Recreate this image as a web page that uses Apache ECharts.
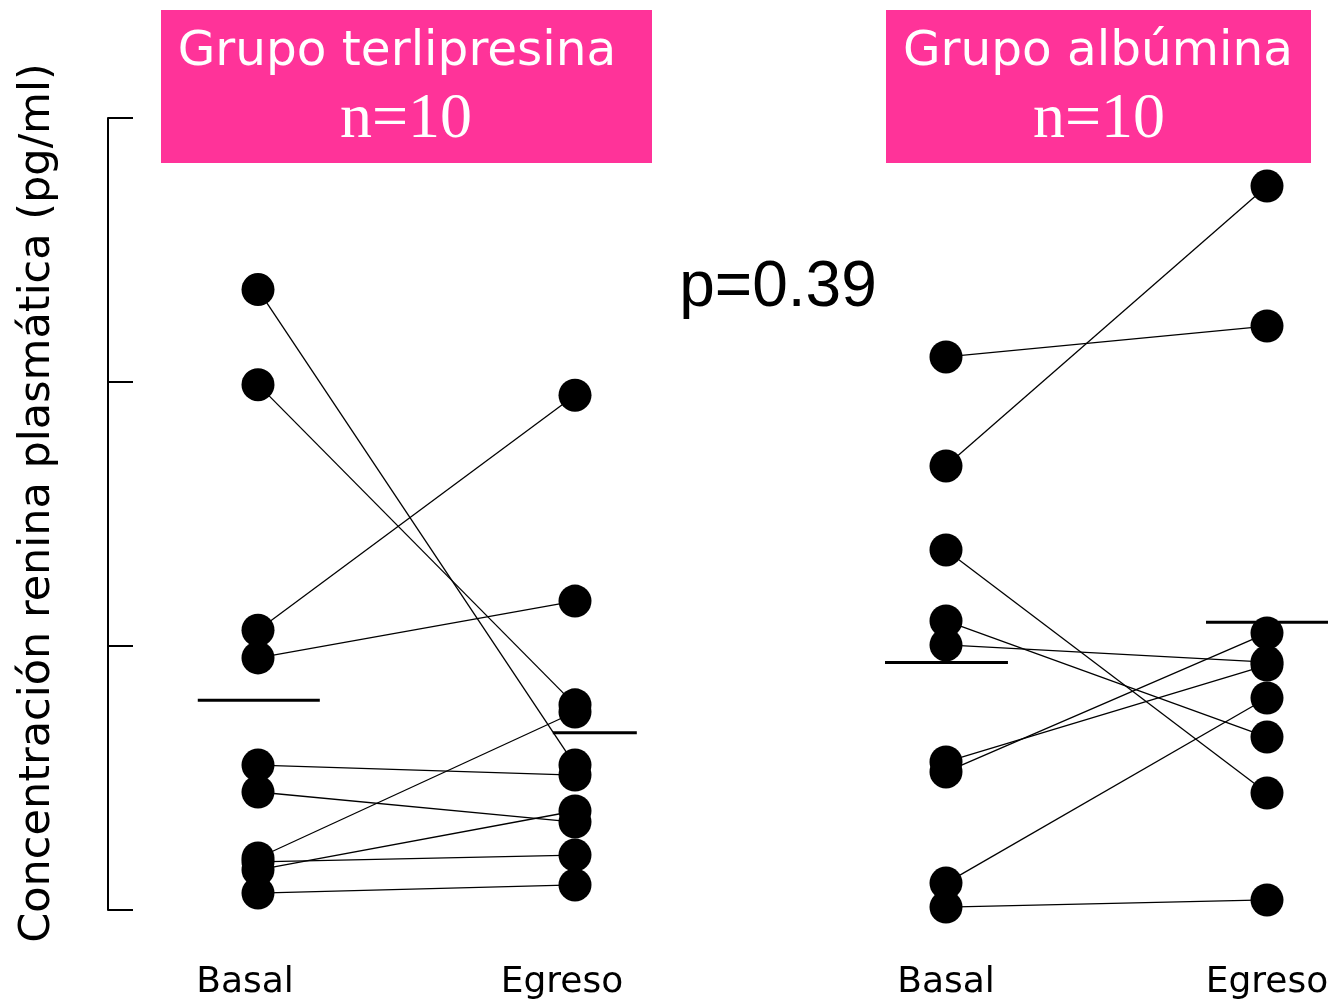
<!DOCTYPE html>
<html>
<head>
<meta charset="utf-8">
<script src="https://cdn.jsdelivr.net/npm/echarts@6/dist/echarts.min.js"></script>
<style>
  html, body { margin: 0; padding: 0; background: #fff; }
  #chart { width: 1338px; height: 1002px; }
</style>
</head>
<body>
<div id="chart"></div>
<script>
// Plasma renin concentration, paired measurements per patient (arbitrary axis units 0–30)
const timepoints = ['Basal', 'Egreso'];

const terliBasal  = [23.5, 19.9, 10.6, 9.55, 5.49, 4.47, 1.97, 1.82, 1.52, 0.64];
const terliEgreso = [5.49, 7.77, 19.5, 11.7, 5.11, 3.33, 7.50, 2.08, 3.75, 0.95];

const albuBasal   = [20.95, 16.82, 13.64, 10.95, 10.04, 5.61, 5.23, 1.02, 0.11];
const albuEgreso  = [22.12, 27.42, 4.43, 6.55, 9.39, 9.28, 10.49, 8.03, 0.38];

const yTicks = [0, 10, 20, 30];
const pValueText = 'p=0.39';

const mean = arr => arr.reduce((s, v) => s + v, 0) / arr.length;

// One line per patient, linking the two time points
function pairSeries(basal, egreso, gridIdx) {
  return basal.map((b, i) => ({
    type: 'line',
    xAxisIndex: gridIdx,
    yAxisIndex: gridIdx,
    data: [[0, b], [1, egreso[i]]],
    symbol: 'circle',
    symbolSize: 33,
    itemStyle: { color: '#000' },
    lineStyle: { color: '#000', width: 1.3 },
    silent: true,
    animation: false,
    z: 3
  }));
}

// Short horizontal bar marking the group mean at a time point
function meanBar(value, x0, x1, gridIdx) {
  return {
    type: 'line',
    xAxisIndex: gridIdx,
    yAxisIndex: gridIdx,
    data: [[x0, value], [x1, value]],
    symbol: 'none',
    lineStyle: { color: '#000', width: 3 },
    silent: true,
    animation: false,
    z: 4
  };
}

const chart = echarts.init(document.getElementById('chart'), null, { renderer: 'canvas' });

// x runs a little past both time points so the mean bars fit around them
const xAxisCommon = {
  type: 'value',
  min: -0.25, max: 1.25, interval: 0.25,
  axisLine: { show: false },
  axisTick: { show: false },
  splitLine: { show: false },
  axisLabel: {
    margin: 55,
    fontFamily: 'DejaVu Sans',
    fontSize: 36,
    color: '#000',
    showMinLabel: false,
    showMaxLabel: false,
    formatter: v => (v === 0 ? timepoints[0] : v === 1 ? timepoints[1] : '')
  }
};

const yAxisCommon = {
  type: 'value',
  min: yTicks[0], max: yTicks[yTicks.length - 1], interval: yTicks[1] - yTicks[0],
  splitLine: { show: false },
  axisLabel: { show: false }
};

chart.setOption({
  backgroundColor: '#fff',
  animation: false,
  grid: [
    { left: 178.75, width: 475.5, top: 118, bottom: 92 },
    { left: 865.75, width: 465.45, top: 118, bottom: 92 }
  ],
  xAxis: [
    Object.assign({}, xAxisCommon, { gridIndex: 0,
      axisLabel: Object.assign({}, xAxisCommon.axisLabel, { padding: [0, 26, 0, 0] }) }),
    Object.assign({}, xAxisCommon, { gridIndex: 1, max: 1.2 })
  ],
  yAxis: [
    Object.assign({}, yAxisCommon, {
      gridIndex: 0,
      position: 'left',
      offset: 70.75,
      axisLine: { show: true, onZero: false, lineStyle: { color: '#000', width: 2 } },
      axisTick: { show: true, inside: true, length: 25, lineStyle: { color: '#000', width: 2 } }
    }),
    Object.assign({}, yAxisCommon, {
      gridIndex: 1,
      axisLine: { show: false },
      axisTick: { show: false }
    })
  ],
  series: [
    ...pairSeries(terliBasal, terliEgreso, 0),
    ...pairSeries(albuBasal, albuEgreso, 1),
    meanBar(mean(terliBasal), -0.19, 0.195, 0),
    meanBar(mean(terliEgreso), 0.93, 1.195, 0),
    meanBar(mean(albuBasal), -0.19, 0.193, 1),
    meanBar(mean(albuEgreso), 0.81, 1.19, 1)
  ],
  graphic: [
    {
      type: 'text',
      x: 38, y: 503,
      rotation: Math.PI / 2,
      style: {
        text: 'Concentración renina plasmática (pg/ml)',
        fontFamily: 'DejaVu Sans',
        fontSize: 43,
        fill: '#000',
        align: 'center',
        verticalAlign: 'middle'
      }
    },
    { type: 'rect', shape: { x: 161, y: 10, width: 491, height: 153 }, style: { fill: '#FF3399' } },
    { type: 'rect', shape: { x: 886, y: 10, width: 425, height: 153 }, style: { fill: '#FF3399' } },
    {
      type: 'text', x: 397, y: 52,
      style: { text: 'Grupo terlipresina', fontFamily: 'DejaVu Sans', fontSize: 48.5,
               fill: '#fff', align: 'center', verticalAlign: 'middle' }
    },
    {
      type: 'text', x: 406, y: 120,
      style: { text: 'n=10', fontFamily: 'Liberation Serif', fontSize: 64,
               fill: '#fff', align: 'center', verticalAlign: 'middle' }
    },
    {
      type: 'text', x: 1098, y: 52,
      style: { text: 'Grupo albúmina', fontFamily: 'DejaVu Sans', fontSize: 48.5,
               fill: '#fff', align: 'center', verticalAlign: 'middle' }
    },
    {
      type: 'text', x: 1099, y: 120,
      style: { text: 'n=10', fontFamily: 'Liberation Serif', fontSize: 64,
               fill: '#fff', align: 'center', verticalAlign: 'middle' }
    },
    {
      type: 'text', x: 778, y: 288,
      style: { text: pValueText, fontFamily: 'Liberation Sans', fontSize: 64,
               fill: '#000', align: 'center', verticalAlign: 'middle' }
    }
  ]
});
</script>
</body>
</html>
